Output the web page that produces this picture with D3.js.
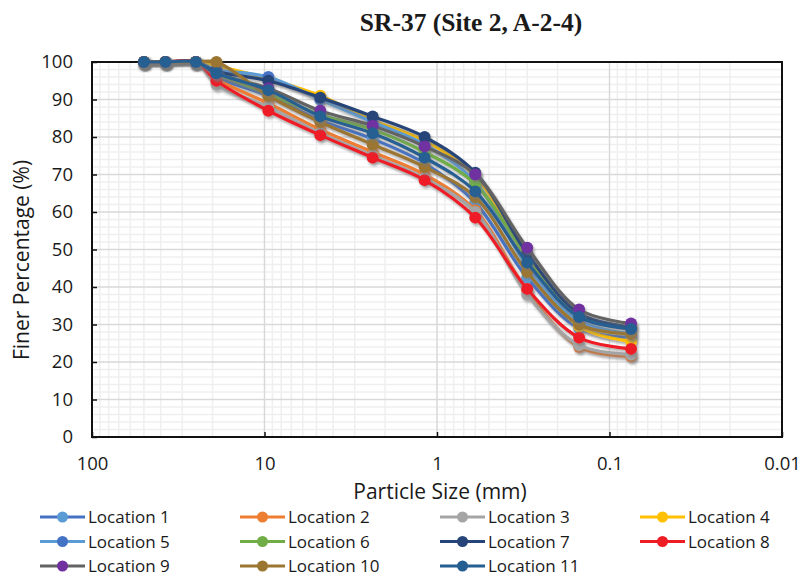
<!DOCTYPE html>
<html><head><meta charset="utf-8">
<script src="https://cdn.jsdelivr.net/npm/d3@7/dist/d3.min.js"></script>
<style>
body{margin:0;background:#fff;}
text{font-family:"Open Sans","Liberation Sans",sans-serif;fill:#1a1a1a;}
</style></head>
<body><svg id="c" width="804" height="582"></svg>
<script>
const sizes = [50, 37.5, 25, 19, 9.5, 4.75, 2.36, 1.18, 0.6, 0.3, 0.15, 0.075];
const names = ["Location 1","Location 2","Location 3","Location 4","Location 5","Location 6","Location 7","Location 8","Location 9","Location 10","Location 11"];
const loc1  = [100,100,100,96,  91,  84.5,79.5,73,  62.5,42.5,29,  26.5];
const loc2  = [100,100,100,95.5,89,  82,  76,  70,  60.5,39,  24,  21.5];
const loc3  = [100,100,100,94,  88,  81,  75,  69,  60,  38,  24.5,22];
const loc4  = [100,100,100,99,  95.5,91,  84.5,79,  69.5,47.5,29.5,25.5];
const loc5  = [100,100,100,98,  96,  90,  84,  78,  68,  45.5,31,  27.5];
const loc6  = [100,100,100,97,  91.5,86,  82,  76,  67.5,48,  32.5,29.5];
const loc7  = [100,100,100,97.5,95,  90.5,85.5,80,  70.5,49,  33,  29.3];
const loc8  = [100,100,100,95,  87,  80.5,74.5,68.5,58.5,39.5,26.5,23.5];
const loc9  = [100,100,100,97,  93,  87,  83,  77.5,70,  50.5,34,  30.3];
const loc10 = [100,100,100,100, 91,  84,  78,  72,  64,  44,  30,  27.5];
const loc11 = [100,100,100,97,  92.5,85.5,81,  74.5,65.5,46.5,32,  28.8];
const seriesValues = [loc1,loc2,loc3,loc4,loc5,loc6,loc7,loc8,loc9,loc10,loc11];
const lineColors   = ["#4472C4","#ED7D31","#A5A5A5","#FFC000","#5B9BD5","#70AD47","#264478","#EE1C25","#636363","#9B7630","#255E91"];
const markerColors = ["#5B9BD5","#ED7D31","#A5A5A5","#FFC000","#4472C4","#70AD47","#264478","#EE1C25","#7030A0","#9B7630","#255E91"];
const xTicks = [100, 10, 1, 0.1, 0.01];
const yTicks = [0,10,20,30,40,50,60,70,80,90,100];

const svg = d3.select("#c");
const L = 92, R = 782, T = 62, B = 437;
const x = d3.scaleLog().domain([100, 0.01]).range([L, R]);
const y = d3.scaleLinear().domain([0, 100]).range([B, T]);

const defs = svg.append("defs");
const f = defs.append("filter").attr("id","sh").attr("x","-10%").attr("y","-10%").attr("width","130%").attr("height","130%");
f.append("feDropShadow").attr("dx",1.5).attr("dy",2.5).attr("stdDeviation",1.2)
  .attr("flood-color","#777").attr("flood-opacity",0.55);

// minor grid
const minorX = [];
for (let e = -2; e < 2; e++) for (let m = 2; m <= 9; m++) minorX.push(m * Math.pow(10, e));
const minorY = d3.range(2, 100, 2).filter(v => v % 10 !== 0);
const g = svg.append("g");
g.selectAll(".mx").data(minorX).join("line")
  .attr("x1", d => x(d)).attr("x2", d => x(d)).attr("y1", T).attr("y2", B)
  .attr("stroke", "#efefef").attr("stroke-width", 1.5);
g.selectAll(".my").data(minorY).join("line")
  .attr("x1", L).attr("x2", R).attr("y1", d => y(d)).attr("y2", d => y(d))
  .attr("stroke", "#efefef").attr("stroke-width", 1.5);
g.selectAll(".Mx").data(xTicks).join("line")
  .attr("x1", d => x(d)).attr("x2", d => x(d)).attr("y1", T).attr("y2", B)
  .attr("stroke", "#d9d9d9").attr("stroke-width", 1.5);
g.selectAll(".My").data(yTicks).join("line")
  .attr("x1", L).attr("x2", R).attr("y1", d => y(d)).attr("y2", d => y(d))
  .attr("stroke", "#d9d9d9").attr("stroke-width", 1.5);

// axes
const ax = svg.append("g").attr("transform", `translate(0,${B})`)
  .call(d3.axisBottom(x).tickValues(xTicks).tickFormat(d3.format("~g")).tickSizeInner(-5).tickSizeOuter(0).tickPadding(20));
const ay = svg.append("g").attr("transform", `translate(${L},0)`)
  .call(d3.axisLeft(y).tickValues(yTicks).tickSizeInner(-5).tickSizeOuter(0).tickPadding(19));
[ax, ay].forEach(a => {
  a.select(".domain").remove();
  a.selectAll(".tick line").attr("stroke", "#111").attr("stroke-width", 1.5);
  a.selectAll(".tick text").attr("font-size", 18.5).attr("fill", "#1a1a1a")
    .style("font-family", '"Open Sans","Liberation Sans",sans-serif');
});
svg.append("rect").attr("x", L).attr("y", T).attr("width", R - L).attr("height", B - T)
  .attr("fill", "none").attr("stroke", "#111").attr("stroke-width", 2);

// series
const line = d3.line().x(d => x(d[0])).y(d => y(d[1])).curve(d3.curveCatmullRom.alpha(0.5));
seriesValues.forEach((vals, i) => {
  const pts = sizes.map((s, j) => [s, vals[j]]);
  const sg = svg.append("g").attr("filter", "url(#sh)");
  sg.append("path").datum(pts).attr("d", line).attr("fill", "none")
    .attr("stroke", lineColors[i]).attr("stroke-width", 3.2);
  sg.selectAll("circle").data(pts).join("circle")
    .attr("cx", d => x(d[0])).attr("cy", d => y(d[1])).attr("r", 6)
    .attr("fill", markerColors[i]);
});

// titles
svg.append("text").attr("x", 471).attr("y", 31).attr("text-anchor", "middle")
  .style("font-family", '"Liberation Serif","Times New Roman",serif').attr("font-weight", "bold")
  .attr("font-size", 25.5).attr("fill", "#111").text("SR-37 (Site 2, A-2-4)");
svg.append("text").attr("x", 440).attr("y", 499).attr("text-anchor", "middle")
  .attr("font-size", 21).text("Particle Size (mm)");
svg.append("text").attr("transform", "translate(29,260) rotate(-90)").attr("text-anchor", "middle")
  .attr("font-size", 21).text("Finer Percentage (%)");

// legend
const lg = svg.append("g");
names.forEach((n, i) => {
  const col = i % 4, row = Math.floor(i / 4);
  const lx = 40 + col * 200, ly = 517 + row * 24.5;
  const it = lg.append("g").attr("transform", `translate(${lx},${ly})`);
  it.append("line").attr("x1", 0).attr("x2", 45).attr("y1", 0).attr("y2", 0)
    .attr("stroke", lineColors[i]).attr("stroke-width", 3);
  it.append("circle").attr("cx", 22.5).attr("cy", 0).attr("r", 5.5).attr("fill", markerColors[i]);
  it.append("text").attr("x", 48).attr("y", 6).attr("font-size", 17).text(n);
});
</script></body></html>
